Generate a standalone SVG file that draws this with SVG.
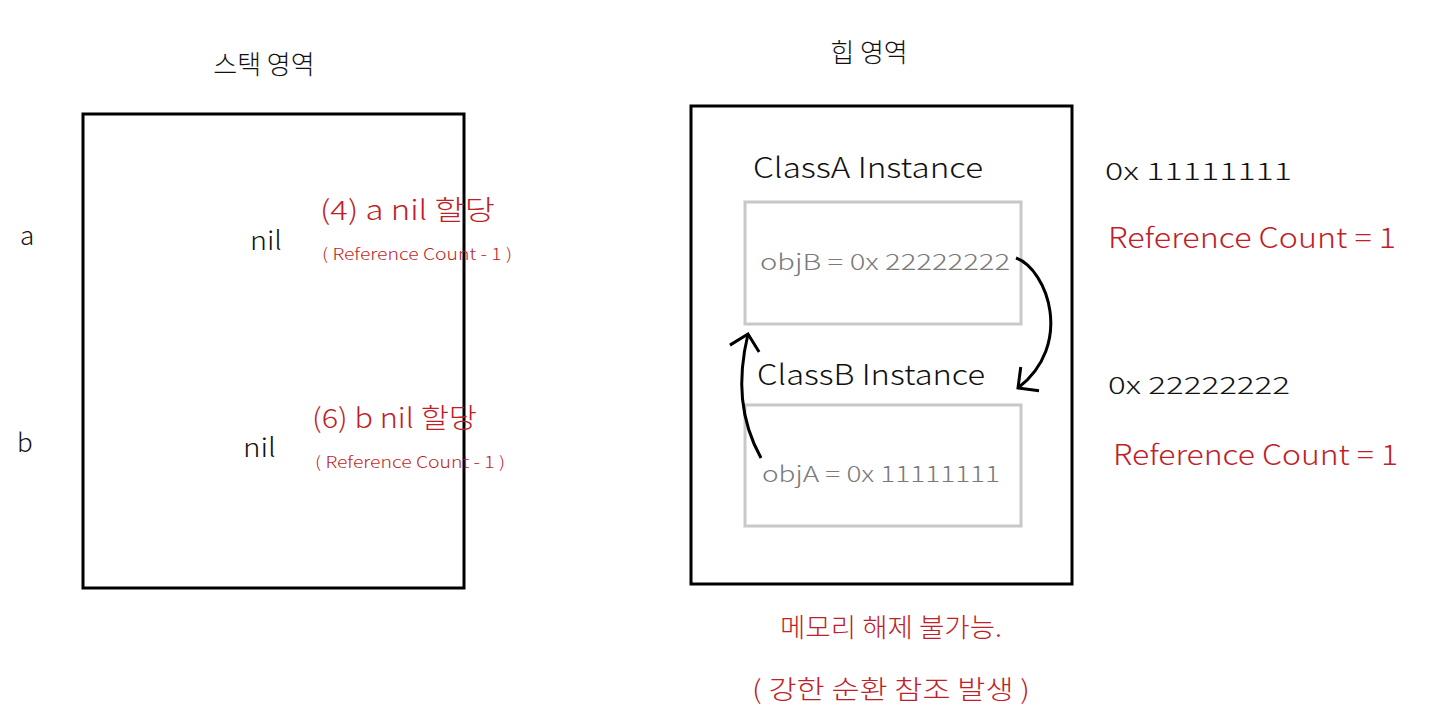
<svg xmlns="http://www.w3.org/2000/svg" width="1440" height="726" viewBox="0 0 1440 726">
<style>
text{font-family:"Noto Sans CJK KR","Noto Sans",sans-serif;font-weight:300}
.k{fill:#111}
.r{fill:#c01e28}
.g{fill:#7a7a7a}
.box{fill:none;stroke:#000;stroke-width:3}
.inner{fill:none;stroke:#c8c8c8;stroke-width:3}
.conn{fill:none;stroke:#000;stroke-width:3}
</style>
<defs>
<marker id="v" markerUnits="userSpaceOnUse" markerWidth="36" markerHeight="36" viewBox="0 0 36 36" refX="18" refY="18" orient="auto">
<path d="M3,3 L18,18 L3,33" fill="none" stroke="#000" stroke-width="3"/>
</marker>
</defs>
<rect width="1440" height="726" fill="#fff"/>

<g id="stack">
<text class="k" x="264" y="74" font-size="26" text-anchor="middle">스택 영역</text>
<rect class="box" x="83" y="114" width="381" height="474"/>
</g>
<g id="var-a">
<text class="k" x="20" y="245" font-size="26">a</text>
<text class="k" x="250" y="250" font-size="26" textLength="32" lengthAdjust="spacingAndGlyphs">nil</text>
<text class="r" x="320" y="220" font-size="27" textLength="175" lengthAdjust="spacingAndGlyphs">(4) a nil 할당</text>
<text class="r" x="322" y="260" font-size="16" textLength="190" lengthAdjust="spacingAndGlyphs">( Reference Count - 1 )</text>
</g>
<g id="var-b">
<text class="k" x="17" y="452" font-size="26">b</text>
<text class="k" x="243" y="457" font-size="26" textLength="33" lengthAdjust="spacingAndGlyphs">nil</text>
<text class="r" x="312" y="428" font-size="27" textLength="165" lengthAdjust="spacingAndGlyphs">(6) b nil 할당</text>
<text class="r" x="315" y="468" font-size="16" textLength="190" lengthAdjust="spacingAndGlyphs">( Reference Count - 1 )</text>
</g>

<g id="heap">
<text class="k" x="869" y="62" font-size="26" text-anchor="middle">힙 영역</text>
<rect class="box" x="691" y="106" width="381" height="478"/>
</g>
<g id="classA">
<text class="k" x="753" y="178" font-size="28" textLength="230" lengthAdjust="spacingAndGlyphs">ClassA Instance</text>
<rect class="inner" x="745" y="202" width="276" height="122"/>
<text class="g" x="760" y="270" font-size="22" textLength="250" lengthAdjust="spacingAndGlyphs">objB = 0x 22222222</text>
</g>
<g id="classB">
<text class="k" x="757" y="385" font-size="28" textLength="228" lengthAdjust="spacingAndGlyphs">ClassB Instance</text>
<rect class="inner" x="745" y="405" width="276" height="121"/>
<text class="g" x="762" y="482" font-size="22" textLength="238" lengthAdjust="spacingAndGlyphs">objA = 0x 11111111</text>
</g>
<g id="addrA">
<text class="k" x="1105" y="180" font-size="24" textLength="187" lengthAdjust="spacingAndGlyphs">0x 11111111</text>
<text class="r" x="1108" y="248" font-size="28" textLength="288" lengthAdjust="spacingAndGlyphs">Reference Count = 1</text>
</g>
<g id="addrB">
<text class="k" x="1108" y="394" font-size="24" textLength="182" lengthAdjust="spacingAndGlyphs">0x 22222222</text>
<text class="r" x="1113" y="465" font-size="28" textLength="285" lengthAdjust="spacingAndGlyphs">Reference Count = 1</text>
</g>
<g id="note">
<text class="r" x="891" y="637" font-size="26" text-anchor="middle" textLength="222" lengthAdjust="spacingAndGlyphs">메모리 해제 불가능.</text>
<text class="r" x="891" y="699" font-size="26" text-anchor="middle" textLength="278" lengthAdjust="spacingAndGlyphs">( 강한 순환 참조 발생 )</text>
</g>

<g id="connectors">
<path class="conn" d="M1016,258 C1048,270 1074,345 1018,388" marker-end="url(#v)"/>
<path class="conn" d="M761,458 C740,420 737,380 748,334" marker-end="url(#v)"/>
</g>
</svg>
